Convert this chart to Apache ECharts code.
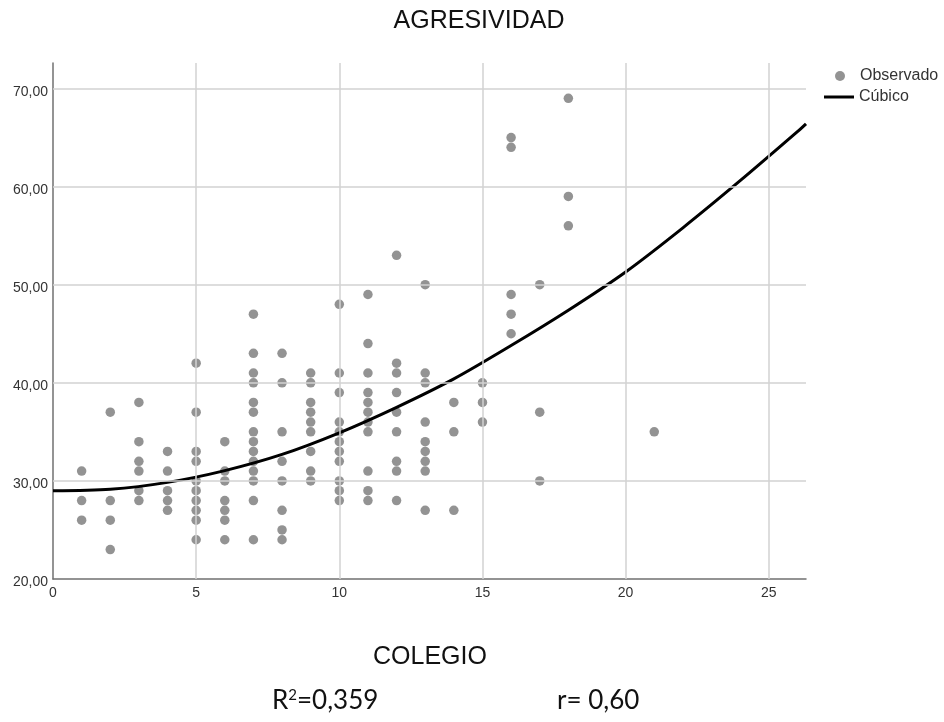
<!DOCTYPE html>
<html>
<head>
<meta charset="utf-8">
<script src="https://cdn.jsdelivr.net/npm/echarts@6/dist/echarts.min.js"></script>
<style>
html,body{margin:0;padding:0;background:#fff;}
#chart{width:944px;height:722px;}
</style>
</head>
<body>
<div id="chart"></div>
<script>
// Observed points: COLEGIO (x) and AGRESIVIDAD (y)
const obsX = [
  1,1,1,
  2,2,2,2,
  3,3,3,3,3,3,
  4,4,4,4,4,
  5,5,5,5,5,5,5,5,5,5,
  6,6,6,6,6,6,6,
  7,7,7,7,7,7,7,7,7,7,7,7,7,7,
  8,8,8,8,8,8,8,8,
  9,9,9,9,9,9,9,9,9,
  10,10,10,10,10,10,10,10,10,10,10,
  11,11,11,11,11,11,11,11,11,11,11,
  12,12,12,12,12,12,12,12,12,
  13,13,13,13,13,13,13,13,13,
  14,14,14,
  15,15,15,
  16,16,16,16,16,
  17,17,17,
  18,18,18,
  21
];
const obsY = [
  31,28,26,
  37,28,26,23,
  38,34,32,31,29,28,
  33,31,29,28,27,
  42,37,33,32,30,29,28,27,26,24,
  34,31,30,28,27,26,24,
  47,43,41,40,38,37,35,34,33,32,31,30,28,24,
  43,40,35,32,30,27,25,24,
  41,40,38,37,36,35,33,31,30,
  48,41,39,36,35,34,33,32,30,29,28,
  49,44,41,39,38,37,36,35,31,29,28,
  53,42,41,39,37,35,32,31,28,
  50,41,40,36,34,33,32,31,27,
  38,35,27,
  40,38,36,
  65,64,49,47,45,
  50,37,30,
  69,59,56,
  35
];
// Cubic fit curve
const curveX = [0, 2, 4, 6, 8, 10, 12, 14, 16, 18, 20, 22, 24, 26, 26.3];
const curveY = [29.0, 29.15, 29.85, 31.05, 32.7, 34.9, 37.5, 40.4, 43.8, 47.4, 51.3, 55.8, 60.6, 65.6, 66.4];

const xTicks = [0, 5, 10, 15, 20, 25];
const yTicks = [20, 30, 40, 50, 60, 70];

const titleText = 'AGRESIVIDAD';
const xTitle = 'COLEGIO';
const legendNames = ['Observado', 'Cúbico'];

const chart = echarts.init(document.getElementById('chart'));
const baseFont = 'Liberation Sans, Arial, sans-serif';
const noteFont = 'Lato, sans-serif';
const gridStyle = {color: '#d2d2d2', width: 1.5, type: 'solid'};

chart.setOption({
  animation: false,
  backgroundColor: '#ffffff',
  textStyle: {fontFamily: baseFont},
  legend: [
    {
      data: [{name: legendNames[0], icon: 'circle'}],
      left: 830, top: 63, orient: 'vertical',
      itemWidth: 10, itemHeight: 10,
      textStyle: {fontSize: 16, color: '#333', padding: [0, 0, 0, 10], fontFamily: baseFont}
    },
    {
      data: [{name: legendNames[1], icon: 'rect'}],
      left: 819, top: 84, orient: 'vertical',
      itemWidth: 30, itemHeight: 3,
      textStyle: {fontSize: 16, color: '#333', fontFamily: baseFont}
    }
  ],
  grid: {left: 53, right: 138, top: 63, bottom: 143, containLabel: false},
  xAxis: {
    type: 'value',
    min: 0, max: 26.3, interval: 5,
    axisLine: {show: true, lineStyle: {color: '#707070', width: 1.5}},
    axisTick: {show: false},
    splitLine: {show: false},
    axisLabel: {
      fontSize: 14, color: '#333', margin: 7, showMaxLabel: false,
      formatter: v => xTicks.includes(v) ? String(v) : ''
    }
  },
  yAxis: {
    type: 'value',
    min: 20, max: 72.6, interval: 10,
    axisLine: {show: true, lineStyle: {color: '#707070', width: 1.5}},
    axisTick: {show: false},
    splitLine: {show: false},
    axisLabel: {
      fontSize: 14, color: '#333', margin: 5, showMaxLabel: false,
      verticalAlign: 'top', lineHeight: 7,
      formatter: v => yTicks.includes(v) ? v.toFixed(2).replace('.', ',') : ''
    }
  },
  series: [
    {
      name: 'grid',
      type: 'scatter',
      data: [],
      silent: true,
      z: 1,
      markLine: {
        silent: true,
        symbol: ['none', 'none'],
        label: {show: false},
        lineStyle: gridStyle,
        emphasis: {disabled: true},
        data: xTicks.filter(v => v > 0).map(v => ({xAxis: v}))
          .concat(yTicks.filter(v => v > 20).map(v => ({yAxis: v})))
      }
    },
    {
      name: legendNames[0],
      type: 'scatter',
      symbol: 'circle',
      symbolSize: 9.5,
      itemStyle: {color: '#787878'},
      data: obsX.map((x, i) => [x, obsY[i]]),
      z: 2
    },
    {
      name: legendNames[1],
      type: 'line',
      smooth: 0.3,
      showSymbol: false,
      lineStyle: {color: '#000', width: 3},
      itemStyle: {color: '#000'},
      data: curveX.map((x, i) => [x, curveY[i]]),
      z: 3
    }
  ],
  graphic: [
    {
      type: 'text', x: 479, y: 21,
      style: {text: titleText, fontSize: 25, fill: '#111', fontFamily: baseFont, align: 'center', verticalAlign: 'middle'}
    },
    {
      type: 'text', x: 430, y: 657,
      style: {text: xTitle, fontSize: 25, fill: '#111', fontFamily: baseFont, align: 'center', verticalAlign: 'middle'}
    },
    {
      type: 'text', x: 272, y: 701,
      style: {
        text: 'R{sup|2}=0,359',
        rich: {sup: {fontSize: 15, fontFamily: noteFont, fill: '#111', verticalAlign: 'top', padding: [0, 0, 12, 0]}},
        fontSize: 26, fill: '#111', fontFamily: noteFont, align: 'left', verticalAlign: 'middle'
      }
    },
    {
      type: 'text', x: 557, y: 701,
      style: {text: 'r= 0,60', fontSize: 26, fill: '#111', fontFamily: noteFont, align: 'left', verticalAlign: 'middle'}
    }
  ]
});
</script>
</body>
</html>
